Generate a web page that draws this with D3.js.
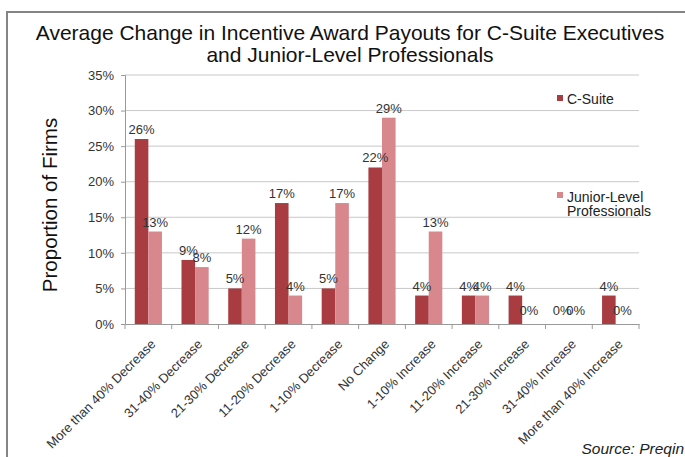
<!DOCTYPE html>
<html>
<head>
<meta charset="utf-8">
<script src="https://cdn.jsdelivr.net/npm/d3@7"></script>
<style>
  body { margin: 0; background: #fff; }
  text { font-family: "Liberation Sans", Arial, sans-serif; }
</style>
</head>
<body>
<script>
var width = 685, height = 457;
var margin = {left: 125, top: 75, right: 46, bottom: 133};

// data
var categories = ["More than 40% Decrease", "31-40% Decrease", "21-30% Decrease",
  "11-20% Decrease", "1-10% Decrease", "No Change", "1-10% Increase",
  "11-20% Increase", "21-30% Increase", "31-40% Increase", "More than 40% Increase"];
var seriesNames = ["C-Suite", "Junior-Level Professionals"];
var cSuite = [26, 9, 5, 17, 5, 22, 4, 4, 4, 0, 4];
var junior = [13, 8, 12, 4, 17, 29, 13, 4, 0, 0, 0];
var yTicks = [0, 5, 10, 15, 20, 25, 30, 35];
var colors = ["#a93c40", "#d8878d"];

var innerWidth = width - margin.left - margin.right;
var innerHeight = height - margin.top - margin.bottom;

var svg = d3.select("body").append("svg")
    .attr("width", width)
    .attr("height", height);

// outer frame (left + top only visible)
svg.append("path")
    .attr("d", "M7," + height + "V12H" + width)
    .attr("fill", "none")
    .attr("stroke", "#858585")
    .attr("stroke-width", 2);

// title
var title = svg.append("text")
    .attr("text-anchor", "middle")
    .attr("font-size", 21)
    .attr("fill", "#111");
title.append("tspan").attr("x", 350).attr("y", 40)
    .text("Average Change in Incentive Award Payouts for C-Suite Executives");
title.append("tspan").attr("x", 350).attr("y", 62)
    .text("and Junior-Level Professionals");

var g = svg.append("g")
    .attr("transform", "translate(" + margin.left + "," + margin.top + ")");

var x0 = d3.scaleBand()
    .domain(categories)
    .range([0, innerWidth]);

var x1 = d3.scaleBand()
    .domain(seriesNames)
    .range([0, x0.bandwidth()])
    .paddingOuter(0.72);

var y = d3.scaleLinear()
    .domain([0, 35])
    .range([innerHeight, 0]);

// gridlines
g.selectAll(".grid")
    .data(yTicks.slice(1))
    .enter().append("line")
    .attr("x1", 0).attr("x2", innerWidth)
    .attr("y1", function(d) { return y(d); })
    .attr("y2", function(d) { return y(d); })
    .attr("stroke", "#c8c8c8")
    .attr("stroke-width", 1);

// y axis
var yAxis = g.append("g")
    .call(d3.axisLeft(y).tickValues(yTicks).tickSize(4).tickPadding(7)
      .tickFormat(function(d) { return d + "%"; }));
yAxis.select(".domain").attr("stroke", "#999");
yAxis.selectAll(".tick line").attr("stroke", "#999");
yAxis.selectAll("text").attr("font-size", 13).attr("fill", "#333")
    .attr("font-family", "Liberation Sans, Arial, sans-serif");

// x axis
var xAxis = g.append("g")
    .attr("transform", "translate(0," + innerHeight + ")")
    .call(d3.axisBottom(x0).tickSize(0).tickFormat(""));
xAxis.select(".domain").attr("stroke", "#999");
xAxis.selectAll(".bound")
    .data(d3.range(categories.length + 1))
    .enter().append("line")
    .attr("class", "bound")
    .attr("x1", function(i) { return i * x0.step(); })
    .attr("x2", function(i) { return i * x0.step(); })
    .attr("y1", 0).attr("y2", 5)
    .attr("stroke", "#999");

// bars
var rows = categories.map(function(c, i) {
  return {cat: c, values: [cSuite[i], junior[i]]};
});

var groups = g.selectAll(".grp")
    .data(rows)
    .enter().append("g")
    .attr("class", "grp")
    .attr("transform", function(d) { return "translate(" + x0(d.cat) + ",0)"; });

groups.selectAll("rect")
    .data(function(d) { return d.values.map(function(v, j) { return {s: seriesNames[j], v: v, j: j}; }); })
    .enter().append("rect")
    .attr("x", function(d) { return x1(d.s); })
    .attr("width", x1.bandwidth())
    .attr("y", function(d) { return y(d.v); })
    .attr("height", function(d) { return innerHeight - y(d.v); })
    .attr("fill", function(d) { return colors[d.j]; });

groups.selectAll(".val")
    .data(function(d) { return d.values.map(function(v, j) { return {s: seriesNames[j], v: v}; }); })
    .enter().append("text")
    .attr("class", "val")
    .attr("x", function(d) { return x1(d.s) + x1.bandwidth() / 2; })
    .attr("y", function(d) { return y(d.v) - (d.v === 0 ? 9 : 5); })
    .attr("text-anchor", "middle")
    .attr("font-size", 13)
    .attr("fill", "#333")
    .text(function(d) { return d.v + "%"; });

// category labels
g.selectAll(".cat")
    .data(categories)
    .enter().append("text")
    .attr("class", "cat")
    .attr("transform", function(d) {
      return "translate(" + (x0(d) + x0.bandwidth() / 2 + 8) + "," + (innerHeight + 21) + ") rotate(-45)";
    })
    .attr("text-anchor", "end")
    .attr("font-size", 13)
    .attr("fill", "#333")
    .text(function(d) { return d; });

// y title
svg.append("text")
    .attr("transform", "translate(57,205) rotate(-90)")
    .attr("text-anchor", "middle")
    .attr("font-size", 20.5)
    .attr("fill", "#111")
    .text("Proportion of Firms");

// legend
var legend = svg.append("g").attr("transform", "translate(557,0)");
legend.append("rect").attr("x", 0).attr("y", 95).attr("width", 6).attr("height", 6).attr("fill", colors[0]);
legend.append("text").attr("x", 10).attr("y", 104).attr("font-size", 14).attr("fill", "#222").text("C-Suite");
legend.append("rect").attr("x", 0).attr("y", 192).attr("width", 6).attr("height", 6).attr("fill", colors[1]);
var lt = legend.append("text").attr("font-size", 14).attr("fill", "#222");
lt.append("tspan").attr("x", 10).attr("y", 202).text("Junior-Level");
lt.append("tspan").attr("x", 10).attr("y", 216).text("Professionals");

// source
svg.append("text")
    .attr("x", 684).attr("y", 454)
    .attr("text-anchor", "end")
    .attr("font-size", 15.5)
    .attr("font-style", "italic")
    .attr("fill", "#222")
    .text("Source: Preqin");
</script>
</body>
</html>
